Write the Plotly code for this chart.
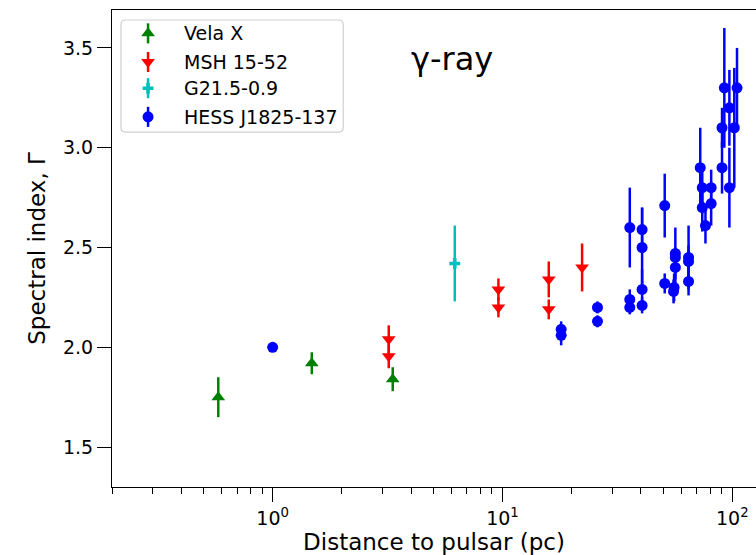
import numpy as np
import plotly.graph_objects as go

# Spectral index vs. distance to pulsar, per source
vela_dist = [0.58, 1.48, 3.33]
vela_index = [1.75, 1.92, 1.84]
vela_err = [0.10, 0.055, 0.06]

msh_dist = [3.2, 3.2, 9.6, 9.6, 15.9, 15.9, 22.2]
msh_index = [2.04, 1.955, 2.29, 2.20, 2.34, 2.19, 2.40]
msh_err = [0.07, 0.06, 0.055, 0.05, 0.09, 0.05, 0.12]

g21_dist = [6.2]
g21_index = [2.42]
g21_err = [0.19]

hess_dist = [1.0, 18.0, 18.0, 25.9, 25.9, 35.8, 35.8, 35.8,
             40.5, 40.5, 40.5, 40.5, 50.8, 50.8,
             56.5, 56.5, 56.5, 55.8, 55.5, 64.5, 64.5, 64.5,
             72.5, 74.0, 74.0, 76.4, 80.9, 80.9,
             90.2, 90.2, 92.3, 97.1, 97.1, 102.0, 104.8]
hess_index = [2.00, 2.09, 2.06, 2.20, 2.13, 2.60, 2.24, 2.20,
              2.59, 2.50, 2.29, 2.21, 2.71, 2.32,
              2.47, 2.45, 2.40, 2.30, 2.28, 2.45, 2.43, 2.33,
              2.90, 2.80, 2.70, 2.61, 2.80, 2.72,
              3.10, 2.90, 3.30, 3.20, 2.80, 3.10, 3.30]
hess_err = [0.02, 0.04, 0.05, 0.03, 0.03, 0.20, 0.05, 0.035,
            0.11, 0.20, 0.10, 0.04, 0.16, 0.05,
            0.13, 0.05, 0.08, 0.07, 0.06, 0.16, 0.08, 0.07,
            0.20, 0.10, 0.12, 0.09, 0.09, 0.11,
            0.10, 0.13, 0.30, 0.19, 0.20, 0.30, 0.20]

x_major = [1, 10, 100]
x_major_text = ["10<sup>0</sup>", "10<sup>1</sup>", "10<sup>2</sup>"]
x_minor = [m * d for d in (0.1, 1, 10) for m in range(2, 10)]
y_ticks = [1.5, 2.0, 2.5, 3.0, 3.5]

FONT = "DejaVu Sans"

series = [
    ("Vela X", vela_dist, vela_index, vela_err, "#008000", "triangle-up", 12),
    ("MSH 15-52", msh_dist, msh_index, msh_err, "#ff0000", "triangle-down", 12),
    ("G21.5-0.9", g21_dist, g21_index, g21_err, "#00bfbf", "cross", 9),
    ("HESS J1825-137", hess_dist, hess_index, hess_err, "#0000ff", "circle", 11),
]

fig = go.Figure()
for name, xs, ys, es, color, symbol, size in series:
    fig.add_trace(go.Scatter(
        x=xs, y=ys, name=name, mode="markers", showlegend=False,
        marker=dict(color=color, symbol=symbol, size=size, line=dict(width=0)),
        error_y=dict(type="data", array=es, visible=True,
                     color=color, thickness=2.5, width=0),
    ))

# Legend key: drawn on an overlay axis spanning the plot area (0..1 both ways),
# so each key shows the marker together with its vertical error bar.
key_x = 0.056
key_text_x = 0.108
key_rows = [0.951, 0.891, 0.836, 0.776]
key_half = 0.021
box = dict(x0=0.014, x1=0.359, y0=0.744, y1=0.979)
rx, ry = 0.007, 0.009
box_path = (
    f"M {box['x0'] + rx} {box['y1']} L {box['x1'] - rx} {box['y1']} "
    f"Q {box['x1']} {box['y1']} {box['x1']} {box['y1'] - ry} "
    f"L {box['x1']} {box['y0'] + ry} Q {box['x1']} {box['y0']} {box['x1'] - rx} {box['y0']} "
    f"L {box['x0'] + rx} {box['y0']} Q {box['x0']} {box['y0']} {box['x0']} {box['y0'] + ry} "
    f"L {box['x0']} {box['y1'] - ry} Q {box['x0']} {box['y1']} {box['x0'] + rx} {box['y1']} Z"
)
fig.add_shape(type="path", path=box_path, xref="x2", yref="y2",
              line=dict(color="#d0d0d0", width=1.2), fillcolor="white",
              layer="below")
for (name, _, _, _, color, symbol, size), ky in zip(series, key_rows):
    fig.add_trace(go.Scatter(
        x=[key_x], y=[ky], xaxis="x2", yaxis="y2", mode="markers",
        showlegend=False, hoverinfo="skip",
        marker=dict(color=color, symbol=symbol, size=size, line=dict(width=0)),
        error_y=dict(type="constant", value=key_half, visible=True,
                     color=color, thickness=2.5, width=0),
    ))
    fig.add_annotation(text=name, x=key_text_x, y=ky, xref="x2", yref="y2",
                       xanchor="left", yanchor="middle", showarrow=False,
                       font=dict(family=FONT, size=19, color="black"))

fig.add_annotation(text="γ-ray", x=0.528, y=0.941, xref="paper", yref="paper",
                   showarrow=False, font=dict(family=FONT, size=32, color="black"))

fig.update_layout(
    width=756, height=555,
    margin=dict(l=112, r=0, t=10, b=68),
    paper_bgcolor="white", plot_bgcolor="white",
    font=dict(family=FONT, color="black"),
    showlegend=False,
    xaxis=dict(
        type="log", range=[np.log10(0.2), 2.103],
        showline=True, linecolor="black", linewidth=1.2, mirror=True,
        showgrid=False, zeroline=False,
        tickmode="array", tickvals=x_major, ticktext=x_major_text,
        ticks="outside", ticklen=14, tickwidth=1.2, tickcolor="black",
        tickfont=dict(family=FONT, size=19),
        minor=dict(tickmode="array", tickvals=x_minor, ticks="outside",
                   ticklen=6, tickwidth=1.2, tickcolor="black", showgrid=False),
        title=dict(text="Distance to pulsar (pc)", font=dict(family=FONT, size=23),
                   standoff=3),
    ),
    yaxis=dict(
        range=[1.3, 3.69],
        showline=True, linecolor="black", linewidth=1.2, mirror=False,
        showgrid=False, zeroline=False,
        tickmode="array", tickvals=y_ticks, ticktext=[f"{v:.1f}" for v in y_ticks],
        ticks="outside", ticklen=14, tickwidth=1.2, tickcolor="black",
        tickfont=dict(family=FONT, size=19),
        title=dict(text="Spectral index, Γ", font=dict(family=FONT, size=23),
                   standoff=10),
    ),
    xaxis2=dict(overlaying="x", anchor="y2", range=[0, 1], visible=False,
                fixedrange=True),
    yaxis2=dict(overlaying="y", anchor="x2", range=[0, 1], visible=False,
                fixedrange=True),
)

fig.write_html("out.html")
